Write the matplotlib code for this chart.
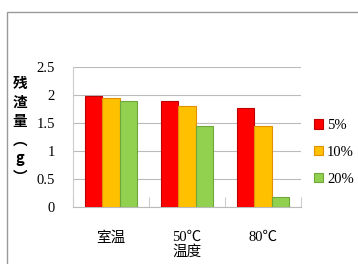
import matplotlib
matplotlib.use("Agg")
import matplotlib.pyplot as plt
from matplotlib.patches import Rectangle
import numpy as np

categories = ["室温", "50℃", "80℃"]
series_names = ["5%", "10%", "20%"]
v5 = [1.99, 1.89, 1.76]
v10 = [1.94, 1.80, 1.45]
v20 = [1.90, 1.44, 0.17]
yticks = [0, 0.5, 1, 1.5, 2, 2.5]
ytick_labels = ["0", "0.5", "1", "1.5", "2", "2.5"]

colors = ["#FF0000", "#FFC000", "#92D050"]
edges = ["#C00000", "#E09000", "#6FA83A"]

num_font = ["Liberation Serif", "Noto Sans CJK SC"]
cjk_font = ["Noto Sans CJK SC", "Liberation Serif"]

W, H = 358, 264
fig = plt.figure(figsize=(W / 100, H / 100), dpi=100)
ax = fig.add_axes([73 / W, 1 - 207 / H, (301 - 73) / W, (207 - 67) / H])

x = np.arange(len(categories))
bw = 0.224
for i, (vals, name) in enumerate(zip([v5, v10, v20], series_names)):
    ax.bar(x + (i - 1) * bw, vals, width=bw, color=colors[i], edgecolor=edges[i],
           linewidth=0.8, label=name, zorder=3)

ax.set_xlim(-0.5, 2.5)
ax.set_ylim(0, 2.5)
ax.set_yticks(yticks)
ax.set_yticklabels(ytick_labels, family=num_font, fontsize=10.5)
ax.tick_params(axis="y", length=0, pad=13)
ax.yaxis.grid(True, color="#BBBBBB", linewidth=0.8, zorder=0)
ax.set_axisbelow(True)

ax.set_xticks(x)
ax.set_xticklabels(categories, family=num_font, fontsize=10.5)
for lbl in ax.get_xticklabels():
    lbl.set_family(cjk_font if lbl.get_text() == "室温" else num_font)
ax.tick_params(axis="x", length=0, pad=17)
ax.set_xticks([-0.5, 0.5, 1.5, 2.5], minor=True)
ax.tick_params(axis="x", which="minor", direction="in", length=7, color="#CCCCCC", width=0.8)

ax.set_xlabel("温度", family=cjk_font, fontsize=10.5, labelpad=0)

for s in ["top", "right"]:
    ax.spines[s].set_visible(False)
ax.spines["left"].set_color("#CCCCCC")
ax.spines["bottom"].set_color("#BBBBBB")
ax.spines["left"].set_linewidth(0.8)
ax.spines["bottom"].set_linewidth(0.8)

fig.text(20 / W, 1 - 130 / H, "残\n渣\n量\n︵\ng\n︶", family=cjk_font, fontsize=10.5,
         fontweight="bold", ha="center", va="center", linespacing=1.22)

leg = ax.legend(loc="center left", bbox_to_anchor=(314 / W, 1 - 152.5 / H),
                bbox_transform=fig.transFigure,
                frameon=False, prop={"family": num_font, "size": 10.5},
                handlelength=0.6, handleheight=0.6, handletextpad=0.3,
                labelspacing=0.95, borderpad=0, borderaxespad=0)

fig.patches.append(Rectangle((6.5 / W, -0.1), 2, 1 - 12.5 / H + 0.1, transform=fig.transFigure,
                             fill=False, edgecolor="#999999", linewidth=1.0))

fig.savefig("out.png", dpi=100)
